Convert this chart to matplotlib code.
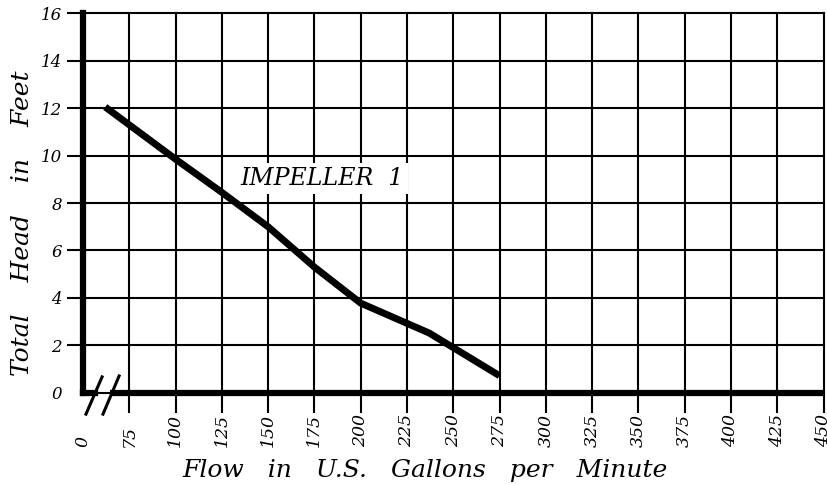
import matplotlib
matplotlib.use("Agg")
import matplotlib.pyplot as plt

# ---- data ----
flow_gpm = [62, 100, 125, 150, 175, 200, 237, 275]
head_ft = [12.05, 9.85, 8.45, 7.0, 5.3, 3.78, 2.52, 0.72]
x_tick_values = [50, 75, 100, 125, 150, 175, 200, 225, 250, 275, 300, 325,
                 350, 375, 400, 425, 450]
x_tick_labels = ['0', '75', '100', '125', '150', '175', '200', '225', '250',
                 '275', '300', '325', '350', '375', '400', '425', '450']
y_tick_values = [0, 2, 4, 6, 8, 10, 12, 14, 16]
y_tick_labels = ['0', '2', '4', '6', '8', '10', '12', '14', '16']
curve_label = "IMPELLER  1"
x_title = "Flow   in   U.S.   Gallons   per   Minute"
y_title = "Total    Head    in    Feet"

plt.rcParams['font.family'] = ['DejaVu Serif']
plt.rcParams['font.style'] = 'italic'

fig = plt.figure(figsize=(8.27, 4.84), dpi=100)
ax = fig.add_axes([0.10036, 0.18843, 0.99577 - 0.10036, 0.97252 - 0.18843])

ax.set_xlim(50, 450)
ax.set_ylim(0, 16)

ax.set_xticks(x_tick_values)
ax.set_xticklabels(x_tick_labels, rotation=90, fontsize=12.5)
ax.set_yticks(y_tick_values)
ax.set_yticklabels(y_tick_labels, fontsize=12)

ax.tick_params(axis='x', direction='out', length=14.4, width=1.5, pad=24.5,
               color='black')
ax.tick_params(axis='y', direction='out', length=11.5, width=1.5, pad=3.6,
               color='black')
for lab in ax.get_xticklabels():
    lab.set_va('bottom')
    lab.set_ha('center')

ax.xaxis.get_major_ticks()[0].tick1line.set_visible(False)
ax.yaxis.get_major_ticks()[0].tick1line.set_visible(False)

ax.grid(True, color='black', linewidth=1.5)
ax.set_axisbelow(True)
for gl in ax.get_xgridlines() + ax.get_ygridlines():
    gl.set_clip_on(False)

for s in ['top', 'right', 'bottom']:
    ax.spines[s].set_visible(False)
ax.spines['left'].set_linewidth(4.5)
ax.spines['left'].set_zorder(5)

# bottom axis with break
ax.plot([50, 56.5], [0, 0], color='black', lw=4.5, clip_on=False,
        solid_capstyle='projecting', zorder=5)
ax.plot([64.5, 450], [0, 0], color='black', lw=4.5, clip_on=False,
        solid_capstyle='butt', zorder=5)
ax.plot([51.6, 60.3], [-0.9, 0.67], color='black', lw=2.2, clip_on=False,
        zorder=6)
ax.plot([60.8, 69.5], [-0.9, 0.71], color='black', lw=2.2, clip_on=False,
        zorder=6)

# performance curve
ax.plot(flow_gpm, head_ft, color='black', lw=5, solid_capstyle='butt',
        zorder=4)

ax.text(179, 8.76, curve_label, ha='center', va='baseline', fontsize=17,
        zorder=7,
        bbox=dict(facecolor='white', edgecolor='none', pad=3))

ax.set_xlabel(x_title, fontsize=18)
ax.xaxis.set_label_coords(0.4618, -0.2219)
ax.xaxis.label.set_va('baseline')
ax.set_ylabel(y_title, fontsize=18)
ax.yaxis.set_label_coords(-0.0729, 0.4474)
ax.yaxis.label.set_va('baseline')

fig.savefig("out.png", dpi=100)
